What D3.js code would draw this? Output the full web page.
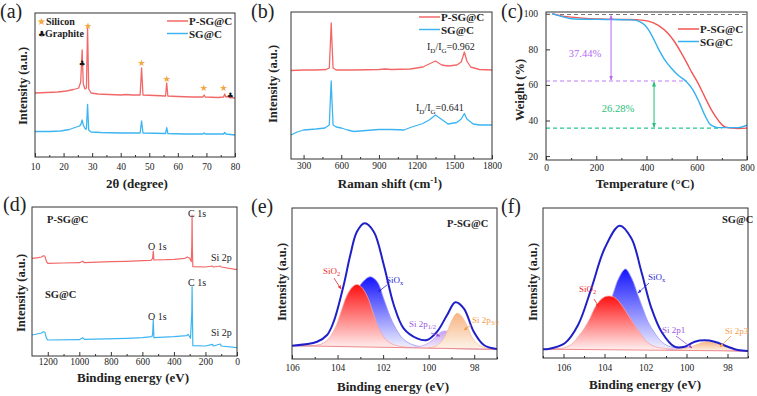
<!DOCTYPE html>
<html>
<head>
<meta charset="utf-8">
<script src="https://cdn.jsdelivr.net/npm/d3@7"></script>
<style>
  body { margin: 0; background: #fff; }
  text { font-family: "Liberation Serif", "Times New Roman", serif; fill: #222; }
  .axis text { font-size: 9.5px; font-family: "Liberation Serif", serif; }
  .axis line { stroke: #333; }
</style>
</head>
<body>
<svg id="fig" width="757" height="396"></svg>
<script>
// ---------- (a) XRD : [2theta, intensity a.u.] ----------
const xrdTicks = [10, 20, 30, 40, 50, 60, 70, 80];
const xrdPSG = [[10,64],[14,64.5],[18,65],[21,66],[23.5,67.5],[25.3,69],[26.0,75],[26.5,107],[26.9,73],[27.5,68],[28.0,69],[28.4,129],[28.8,68],[29.6,64],[32,63],[36,62.5],[40,62],[42,62.5],[44,62],[46.8,62],[47.3,89],[47.8,62],[52,61.5],[55.7,61],[56.1,74],[56.5,61],[60,60.5],[65,60],[68.8,60],[69.2,62],[69.6,60],[74,59.5],[76.0,60],[76.4,63],[76.8,60],[77.5,60.5],[78,59.5],[80,59]];
const xrdSG = [[10,25.5],[15,25.5],[19,26],[22,27.5],[24,29.5],[25.6,31],[26.1,33],[26.5,37],[26.9,32],[27.6,28],[28.0,28],[28.4,52.7],[28.8,27],[29.6,25],[33,24.5],[40,24],[46.8,24],[47.3,36],[47.8,24],[55.7,23.5],[56.1,29.3],[56.5,23.5],[62,23],[68.8,23],[69.2,24],[69.6,23],[76.0,23],[76.4,24.5],[76.8,23],[80,22]];
const siliconMarks = [[28.6,132],[47.3,95],[56.1,79],[69.1,70],[76.0,70]];
const graphiteMarks = [[26.5,94],[78.4,62]];

// ---------- (b) Raman : [shift cm-1, intensity] ----------
const ramanTicks = [300, 600, 900, 1200, 1500, 1800];
const ramanPSG = [[200,88.5],[300,89],[400,89],[480,89.5],[505,91],[515,120],[520,136],[525,120],[535,91],[560,89],[700,89],[900,89.5],[950,90],[1000,89.5],[1150,90],[1250,92],[1300,95],[1350,98],[1400,94],[1450,93],[1520,94],[1555,97],[1580,107],[1600,98],[1630,92],[1700,89.5],[1800,89]];
const ramanSG = [[200,24],[250,27],[300,29],[400,30],[470,31],[505,34],[515,65],[520,78],[525,62],[535,34],[560,32],[600,31],[650,29],[700,27.5],[800,28.5],[900,29.5],[1000,29.5],[1100,29],[1150,31.5],[1200,33.5],[1250,35.5],[1300,39],[1350,44],[1400,39.5],[1450,35],[1520,36.5],[1555,40],[1580,45.5],[1600,40],[1650,35],[1700,34],[1800,34]];
const ratioLabels = ["0.962", "0.641"];

// ---------- (c) TGA : [T °C, weight %] ----------
const tgaXTicks = [0, 200, 400, 600, 800];
const tgaYTicks = [20, 40, 60, 80, 100];
const tgaPSG = [[25,100],[60,98.8],[103,98.1],[160,97.4],[235,97],[300,96.8],[368,96.6],[407,95.9],[447,93.5],[487,88.8],[513,84],[540,77.6],[560,72.5],[579,67.3],[595,63.5],[606,60.7],[632,53.3],[659,45.8],[685,40.2],[712,36.4],[740,35.7],[765,35.5],[800,35.7]];
const tgaSG = [[25,100],[50,99],[80,97.8],[103,97.2],[160,96.9],[235,96.8],[341,96.6],[368,95.9],[394,93.5],[421,87.9],[447,80.4],[474,73.8],[500,69.2],[526,65.4],[560,61.7],[586,57],[612,49.5],[632,43],[652,38],[670,36.5],[685,36],[765,36],[800,37.4]];
const tgaLevels = [99.6, 62.2, 35.7];
const tgaLoss = ["37.44%", "26.28%"];

// ---------- (d) XPS survey : [binding energy eV, intensity] ----------
const surveyTicks = [0, 200, 400, 600, 800, 1000, 1200];
const surveyPSG = [[1300,97.7],[1260,98.3],[1240,99],[1228,100.3],[1218,99.7],[1208,94.3],[1200,92.7],[1100,93],[1000,93.3],[978,94.7],[968,93.3],[800,94.3],[700,94.7],[600,95.3],[545,95.7],[535,97.7],[531,105],[527,96],[450,96.3],[400,96.7],[330,97.7],[315,99],[300,97.7],[290,94.3],[286.5,111],[284.8,141],[283,107.7],[280,89.3],[200,89],[155,90],[150,89],[105,90],[100,89],[0,86.3]];
const surveySG = [[1300,21],[1240,23],[1228,24.3],[1218,23.7],[1208,17.7],[1200,16],[1000,16.3],[978,18.3],[968,16.7],[700,17.7],[600,18.3],[540,19.3],[535,21.7],[531,36],[527,18.3],[400,19.3],[320,20.3],[310,21.7],[295,17.7],[286.5,44.3],[284.8,69.3],[283,44.3],[280,10.3],[200,10],[155,11.7],[150,10],[105,12],[100,10],[0,8.3]];

// ---------- (e) Si 2p, P-SG@C : [binding energy eV, intensity] ----------
const beTicks = [106, 104, 102, 100, 98];
const eEnvelope = [[106,13.3],[104.9,17.3],[104.46,24],[104.17,37.3],[103.73,74],[103.44,104],[103.15,127.3],[102.81,135.7],[102.41,127.3],[101.97,94],[101.53,54],[101.1,30.7],[100.51,20.7],[100.07,19],[99.63,27.3],[99.19,44],[98.83,56.7],[98.46,50.7],[98.02,27.3],[97.58,14],[97,10]];
const eSiO2 = [[106,13.3],[105,13.5],[104.7,15],[104.4,20],[104.1,31],[103.85,47],[103.6,63],[103.35,72],[103.15,74.5],[102.95,72],[102.7,63],[102.45,47],[102.2,31],[101.9,20],[101.6,15],[101.2,12.5],[100,11],[97,9.7]];
const eSiOx = [[106,13.3],[104.8,14],[104.5,17],[104.2,22],[103.9,34],[103.55,51],[103.2,66],[102.9,77],[102.56,82.3],[102.25,77],[101.97,60],[101.7,43],[101.5,33],[101.2,22],[100.95,17],[100.6,13.5],[100,11.5],[97,9.7]];
const eSi2p12 = [[101,11.3],[100.4,12.5],[100.0,16],[99.7,22],[99.45,27],[99.27,28],[99.05,27],[98.8,22],[98.5,16],[98.2,12],[97.6,10],[97,9.7]];
const eSi2p32 = [[100,11],[99.6,14],[99.3,22],[99.05,35],[98.85,44],[98.75,45.7],[98.6,44],[98.35,35],[98.1,22],[97.8,14],[97.4,10.5],[97,9.7]];
const eBackground = [[106,13.3],[97,9.7]];

// ---------- (f) Si 2p, SG@C ----------
const fEnvelope = [[107,8.8],[106.75,9],[105.94,14.7],[105.29,33],[104.64,69.7],[103.99,109.7],[103.26,132.3],[102.69,119.7],[102.2,86.3],[101.71,49.7],[101.22,26.3],[100.58,11.3],[100.09,11.3],[99.6,16.3],[99.11,17.7],[98.63,16.3],[97.98,11.3],[97.5,8],[97,7]];
const fSiO2 = [[107,8.8],[106,10],[105.6,14],[105.25,22],[104.97,30],[104.7,40],[104.48,50],[104.2,58],[103.95,61.5],[103.75,62],[103.5,60.5],[103.2,54],[102.85,43],[102.5,32],[102.2,23],[101.9,15.5],[101.55,11.5],[101,9.5],[97,7]];
const fSiOx = [[107,8.8],[105.6,9.8],[105.1,12],[104.75,16],[104.4,25],[104.1,36],[103.85,48],[103.6,63],[103.3,80],[102.98,89],[102.68,80],[102.37,63],[102.1,48],[101.88,36.3],[101.55,25],[101.22,16.3],[100.9,12],[100.58,10.3],[100,9],[97,7]];
const fSi2p1 = [[101,8],[100.3,9.3],[99.9,10.8],[99.6,11],[99.3,10.2],[98.9,8.8],[98.5,7.8],[97,7]];
const fSi2p3 = [[100.6,8.2],[100,9.8],[99.6,12.5],[99.25,15.3],[98.95,16.3],[98.65,15.3],[98.3,12.5],[97.9,9.8],[97.4,7.8],[97,7]];
const fBackground = [[107,8.8],[97,7]];

const RED = "#f26868", BLUE = "#3db5f2", ENV = "#2020c8";

const svg = d3.select("#fig");
const defs = svg.append("defs");
let clipCount = 0;

function panel(o) {
  const g = svg.append("g").attr("transform", `translate(${o.left},${o.top})`);
  const x = d3.scaleLinear().domain(o.xDomain).range([0, o.w]);
  const y = d3.scaleLinear().domain(o.yDomain).range([o.h, 0]);
  const id = "clip" + (clipCount++);
  defs.append("clipPath").attr("id", id)
    .append("rect").attr("width", o.w).attr("height", o.h);

  g.append("g").attr("class", "axis").attr("transform", `translate(0,${o.h})`)
    .call(d3.axisBottom(x).tickValues(o.xMinor).tickSize(-2).tickFormat(""));
  g.append("g").attr("class", "axis").attr("transform", `translate(0,${o.h})`)
    .call(d3.axisBottom(x).tickValues(o.xTicks).tickSize(-4).tickPadding(o.pad).tickFormat(d3.format("d")));
  if (o.yTicks) {
    g.append("g").attr("class", "axis")
      .call(d3.axisLeft(y).tickValues(o.yTicks).tickSize(-4).tickPadding(8).tickFormat(d3.format("d")));
  }
  g.selectAll(".domain").remove();
  g.selectAll(".axis").attr("font-family", "Liberation Serif");

  const plot = g.append("g").attr("clip-path", `url(#${id})`);
  g.append("rect").attr("width", o.w).attr("height", o.h)
    .attr("fill", "none").attr("stroke", "#333").attr("stroke-width", 1);

  // panel letter and titles (absolute coordinates)
  svg.append("text").attr("x", o.letter[0]).attr("y", o.letter[1])
    .style("font-size", "20px").text(o.name);
  svg.append("text").attr("x", o.xTitle[0]).attr("y", o.xTitle[1])
    .attr("text-anchor", "middle").style("font-size", "13px").style("font-weight", "bold")
    .call(o.xText || (t => t.text(o.xLabel)));
  svg.append("text").attr("transform", `translate(${o.yTitle[0]},${o.yTitle[1]}) rotate(-90)`)
    .attr("text-anchor", "middle").style("font-size", "12.5px").style("font-weight", "bold")
    .text(o.yLabel);

  const line = d3.line().x(d => x(d[0])).y(d => y(d[1]));
  return { g, plot, x, y, line };
}

function drawLine(p, data, color, width, curve) {
  const gen = p.line.curve(curve || d3.curveLinear);
  p.plot.append("path").attr("d", gen(data))
    .attr("fill", "none").attr("stroke", color).attr("stroke-width", width)
    .attr("stroke-linejoin", "round");
}

function label(x, y, txt, opts = {}) {
  return svg.append("text").attr("x", x).attr("y", y)
    .attr("text-anchor", opts.anchor || "start")
    .style("font-size", (opts.size || 10) + "px")
    .style("font-weight", opts.bold ? "bold" : "normal")
    .style("fill", opts.color || "#222")
    .text(txt);
}

function legend(x, y, entries) {
  entries.forEach((e, i) => {
    svg.append("line").attr("x1", x).attr("x2", x + 21)
      .attr("y1", y + i * 12.5).attr("y2", y + i * 12.5)
      .attr("stroke", e[1]).attr("stroke-width", 1.5);
    label(x + 22, y + i * 12.5 + 4, e[0], { bold: true, size: 11 });
  });
}

// arrow markers
function marker(id, color) {
  defs.append("marker").attr("id", id).attr("viewBox", "0 0 10 10")
    .attr("refX", 9).attr("refY", 5).attr("markerWidth", 5).attr("markerHeight", 5)
    .attr("orient", "auto-start-reverse")
    .append("path").attr("d", "M0,1 L10,5 L0,9 Z").attr("fill", color);
}
marker("arPurple", "#b36bf0");
marker("arGreen", "#1fbf7a");
marker("arRed", "#ee2a2a");
marker("arBlue", "#2a2ad8");
marker("arViolet", "#9a55e0");
marker("arOrange", "#f39a45");

function pointer(x1, y1, x2, y2, color, mk) {
  svg.append("line").attr("x1", x1).attr("y1", y1).attr("x2", x2).attr("y2", y2)
    .attr("stroke", color).attr("stroke-width", 0.8).attr("marker-end", `url(#${mk})`);
}

function gradient(id, top, bottom) {
  const lg = defs.append("linearGradient").attr("id", id)
    .attr("x1", 0).attr("y1", 0).attr("x2", 0).attr("y2", 1);
  lg.append("stop").attr("offset", "0%").attr("stop-color", top);
  lg.append("stop").attr("offset", "100%").attr("stop-color", bottom);
}
gradient("gRed", "#ff1010", "#fff3f3");
gradient("gBlue", "#1414ff", "#f6f6ff");
gradient("gViolet", "#c7a0f2", "#f6f0fd");
gradient("gOrange", "#f7b582", "#fdf3ea");

// ================= (a) =================
const pa = panel({
  left: 35, top: 13, w: 200, h: 144, xDomain: [10, 80], yDomain: [0, 144],
  xTicks: xrdTicks, xMinor: d3.range(15, 80, 10), pad: 6,
  name: "(a)", letter: [0, 18], xTitle: [137, 188], yTitle: [27, 86],
  xLabel: "2θ (degree)", yLabel: "Intensity (a.u.)"
});
drawLine(pa, xrdPSG, RED, 1.3);
drawLine(pa, xrdSG, BLUE, 1.3);
pa.g.selectAll(".star").data(siliconMarks).join("text")
  .attr("x", d => pa.x(d[0])).attr("y", d => pa.y(d[1]) + 3.5).attr("text-anchor", "middle")
  .style("font-family", "DejaVu Sans").style("font-size", "9px").style("fill", "#f5a640").text("★");
pa.g.selectAll(".club").data(graphiteMarks).join("text")
  .attr("x", d => pa.x(d[0])).attr("y", d => pa.y(d[1]) + 3).attr("text-anchor", "middle")
  .style("font-family", "DejaVu Sans").style("font-size", "7.5px").style("fill", "#111").text("♣");
label(37, 25, "★", { size: 10, color: "#f5a640" }).style("font-family", "DejaVu Sans");
label(46, 25, "Silicon", { bold: true, size: 10 });
label(38, 37, "♣", { size: 8.5, color: "#111" }).style("font-family", "DejaVu Sans");
label(45, 37, "Graphite", { bold: true, size: 10 });
legend(167, 21, [["P-SG@C", RED], ["SG@C", BLUE]]);

// ================= (b) =================
const pb = panel({
  left: 291, top: 12, w: 201, h: 147, xDomain: [200, 1800], yDomain: [0, 147],
  xTicks: ramanTicks, xMinor: d3.range(450, 1800, 300), pad: 3,
  name: "(b)", letter: [251, 18], xTitle: [390, 188], yTitle: [277, 84],
  xLabel: "", yLabel: "Intensity (a.u.)",
  xText: t => {
    t.text("Raman shift (cm");
    t.append("tspan").attr("dy", -5).style("font-size", "9px").text("-1");
    t.append("tspan").attr("dy", 5).text(")");
  }
});
drawLine(pb, ramanPSG, RED, 1.3);
drawLine(pb, ramanSG, BLUE, 1.3);
function ratio(x, y, v) {
  const t = label(x, y, "I", { size: 10 });
  t.append("tspan").attr("dy", 3).style("font-size", "7px").text("D");
  t.append("tspan").attr("dy", -3).text("/I");
  t.append("tspan").attr("dy", 3).style("font-size", "7px").text("G");
  t.append("tspan").attr("dy", -3).text("=" + v);
}
ratio(427, 50, ratioLabels[0]);
ratio(416, 111, ratioLabels[1]);
legend(419, 17, [["P-SG@C", RED], ["SG@C", BLUE]]);

// ================= (c) =================
const pc = panel({
  left: 546, top: 12, w: 201, h: 148, xDomain: [0, 800], yDomain: [17.8, 101],
  xTicks: tgaXTicks, xMinor: [100, 300, 500, 700], yTicks: tgaYTicks, pad: 4,
  name: "(c)", letter: [501, 18], xTitle: [645, 188], yTitle: [524, 90],
  xLabel: "Temperature (°C)", yLabel: "Weight (%)"
});
const levelColors = ["#777", "#c07cf5", "#27c98a"];
const levelEnds = [800, 560, 700];
tgaLevels.forEach((v, i) => {
  pc.plot.append("line").attr("x1", pc.x(0)).attr("x2", pc.x(levelEnds[i]))
    .attr("y1", pc.y(v)).attr("y2", pc.y(v))
    .attr("stroke", levelColors[i]).attr("stroke-width", 1.1).attr("stroke-dasharray", "4,3");
});
drawLine(pc, tgaPSG, "#f25555", 1.4, d3.curveMonotoneX);
drawLine(pc, tgaSG, "#35b0f0", 1.4, d3.curveMonotoneX);
pc.g.append("line").attr("x1", pc.x(259)).attr("x2", pc.x(259))
  .attr("y1", pc.y(tgaLevels[0]) + 1).attr("y2", pc.y(tgaLevels[1]) - 1)
  .attr("stroke", "#b36bf0").attr("stroke-width", 1)
  .attr("marker-start", "url(#arPurple)").attr("marker-end", "url(#arPurple)");
pc.g.append("line").attr("x1", pc.x(430)).attr("x2", pc.x(430))
  .attr("y1", pc.y(tgaLevels[1]) + 1).attr("y2", pc.y(tgaLevels[2]) - 1)
  .attr("stroke", "#1fbf7a").attr("stroke-width", 1)
  .attr("marker-start", "url(#arGreen)").attr("marker-end", "url(#arGreen)");
label(585, 57, tgaLoss[0], { size: 10.5, color: "#b36bf0", anchor: "middle" });
label(618, 112, tgaLoss[1], { size: 10.5, color: "#1fbf7a", anchor: "middle" });
legend(678, 29, [["P-SG@C", "#f25555"], ["SG@C", "#35b0f0"]]);

// ================= (d) =================
const pd = panel({
  left: 32, top: 207, w: 205, h: 149, xDomain: [1300, 0], yDomain: [0, 149],
  xTicks: surveyTicks, xMinor: d3.range(100, 1300, 200), pad: 2,
  name: "(d)", letter: [3, 211], xTitle: [133, 382], yTitle: [25, 293],
  xLabel: "Binding energy (eV)", yLabel: "Intensity (a.u.)"
});
drawLine(pd, surveyPSG, RED, 1.2);
drawLine(pd, surveySG, BLUE, 1.2);
label(47, 223, "P-SG@C", { bold: true, size: 10.5 });
label(45, 298, "SG@C", { bold: true, size: 10.5 });
label(188, 217, "C 1s");
label(148, 250, "O 1s");
label(211, 261, "Si 2p");
label(188, 286, "C 1s");
label(148, 320, "O 1s");
label(211, 336, "Si 2p");

// ================= (e) / (f) fits =================
function fit(p, bg, comps, envelope) {
  const bgScale = d3.scaleLinear().domain(bg.map(d => d[0])).range(bg.map(d => d[1]));
  comps.forEach(c => {
    const area = d3.area().curve(d3.curveCatmullRom)
      .x(d => p.x(d[0])).y0(d => p.y(bgScale(d[0]))).y1(d => p.y(d[1]));
    p.plot.append("path").attr("d", area(c.data)).attr("fill", `url(#${c.grad})`);
    drawLine(p, c.data, c.edge, 0.8, d3.curveCatmullRom);
  });
  drawLine(p, bg, "#f08a8a", 1, d3.curveLinear);
  drawLine(p, envelope, ENV, 2, d3.curveCatmullRom);
}

const pe = panel({
  left: 292, top: 208, w: 205, h: 151, xDomain: [106, 97], yDomain: [0, 151],
  xTicks: beTicks, xMinor: [105, 103, 101, 99, 97], pad: 5,
  name: "(e)", letter: [251, 213], xTitle: [393, 391], yTitle: [286, 282],
  xLabel: "Binding energy (eV)", yLabel: "Intensity (a.u.)"
});
fit(pe, eBackground, [
  { data: eSiOx, grad: "gBlue", edge: "#9a9af0" },
  { data: eSiO2, grad: "gRed", edge: "#f5a5a5" },
  { data: eSi2p12, grad: "gViolet", edge: "#c9a8ef" },
  { data: eSi2p32, grad: "gOrange", edge: "#f6c097" }
], eEnvelope);
label(447, 227, "P-SG@C", { bold: true, size: 10.5 });
const s1 = label(323, 274, "SiO", { size: 9, color: "#ee2a2a" });
s1.append("tspan").attr("dy", 2).style("font-size", "6.5px").text("2");
pointer(334, 278, 341, 289, "#ee2a2a", "arRed");
const s2 = label(386, 283, "SiO", { size: 9, color: "#2a2ad8" });
s2.append("tspan").attr("dy", 2).style("font-size", "6.5px").text("x");
pointer(387, 285, 378, 292, "#2a2ad8", "arBlue");
const s3 = label(409, 327, "Si 2p", { size: 9, color: "#9a55e0" });
s3.append("tspan").attr("dy", 2).style("font-size", "6.5px").text("1/2");
pointer(431, 333, 440, 336, "#9a55e0", "arViolet");
const s4 = label(472, 323, "Si 2p", { size: 9, color: "#f39a45" });
s4.append("tspan").attr("dy", 2).style("font-size", "6.5px").text("3/2");
pointer(471, 325, 464, 330, "#f39a45", "arOrange");

const pf = panel({
  left: 543, top: 208, w: 205, h: 150, xDomain: [107, 97], yDomain: [0, 150],
  xTicks: beTicks, xMinor: [107, 105, 103, 101, 99, 97], pad: 6,
  name: "(f)", letter: [501, 213], xTitle: [645, 389], yTitle: [537, 282],
  xLabel: "Binding energy (eV)", yLabel: "Intensity (a.u.)"
});
fit(pf, fBackground, [
  { data: fSiOx, grad: "gBlue", edge: "#9a9af0" },
  { data: fSiO2, grad: "gRed", edge: "#f5a5a5" },
  { data: fSi2p1, grad: "gViolet", edge: "#c9a8ef" },
  { data: fSi2p3, grad: "gOrange", edge: "#f6c097" }
], fEnvelope);
label(722, 223, "SG@C", { bold: true, size: 10.5 });
const t1 = label(579, 292, "SiO", { size: 9, color: "#ee2a2a" });
t1.append("tspan").attr("dy", 2).style("font-size", "6.5px").text("2");
pointer(594, 299, 599, 307, "#ee2a2a", "arRed");
const t2 = label(648, 280, "SiO", { size: 9, color: "#2a2ad8" });
t2.append("tspan").attr("dy", 2).style("font-size", "6.5px").text("x");
pointer(649, 283, 638, 293, "#2a2ad8", "arBlue");
label(662, 333, "Si 2p1", { size: 9, color: "#9a55e0" });
pointer(676, 336, 692, 348, "#9a55e0", "arViolet");
label(725, 334, "Si 2p3", { size: 9, color: "#f39a45" });
pointer(731, 336, 720, 347, "#f39a45", "arOrange");
</script>
</body>
</html>
